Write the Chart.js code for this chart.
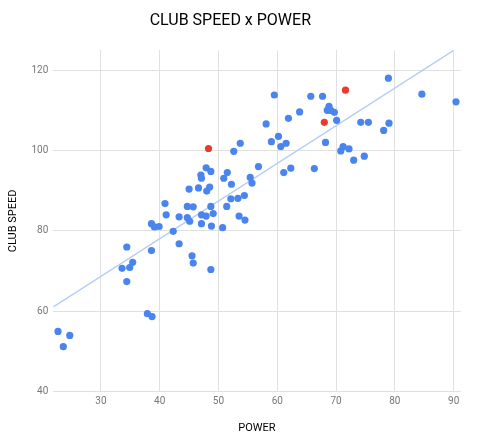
<!DOCTYPE html>
<html>
<head>
<meta charset="utf-8">
<script src="https://cdn.jsdelivr.net/npm/chart.js@4/dist/chart.umd.min.js"></script>
<style>
    html, body { margin: 0; padding: 0; background: #fff; }
    #wrap { width: 480px; height: 444px; }
</style>
</head>
<body>
<div id="wrap"><canvas id="chart" width="480" height="444"></canvas></div>
<script>
// Values
const bluePower = [
    22.7, 23.6, 24.7, 33.6, 34.4, 34.9, 35.4, 34.4, 37.9, 38.7,
    38.6, 38.6, 39.1, 39.9, 40.9, 41.1, 42.3, 43.3, 43.3, 45.0,
    44.7, 45.7, 44.7, 45.1, 45.5, 45.7, 46.6, 47.0, 47.1, 47.9,
    48.7, 48.0, 48.5, 47.1, 47.1, 47.9, 48.7, 49.1, 48.8, 48.7,
    50.7, 50.9, 51.5, 52.2, 52.1, 51.4, 52.6, 53.3, 53.7, 53.5,
    54.4, 54.5, 55.4, 55.7, 56.8, 58.1, 59.0, 59.5, 60.2, 60.6,
    61.5, 61.9, 61.1, 62.3, 63.8, 65.7, 66.3, 67.7,
    68.2, 68.5, 68.8, 69.1, 69.7, 70.1,
    70.8, 71.2, 72.2, 73.0, 74.2, 74.8, 75.5, 78.1, 78.9, 79.0, 84.6, 90.4
];
const blueSpeed = [
    55.0, 51.2, 54.0, 70.7, 76.0, 70.9, 72.2, 67.4, 59.4, 58.7,
    75.1, 81.8, 81.0, 81.1, 86.8, 84.0, 79.9, 83.5, 76.8, 90.4,
    86.1, 86.0, 83.3, 82.4, 73.8, 72.0, 90.7, 93.9, 93.1, 95.7,
    94.8, 89.9, 90.9, 84.0, 81.8, 83.7, 86.1, 84.3, 81.2, 70.4,
    80.8, 93.1, 94.5, 91.6, 88.0, 86.1, 99.8, 88.1, 101.8, 83.7,
    88.8, 82.7, 93.3, 91.9, 96.0, 106.6, 102.2, 113.8, 103.5, 101.0,
    101.8, 108.0, 94.5, 95.6, 109.6, 113.5, 95.5, 113.5,
    102.0, 110.0, 111.0, 110.0, 109.5, 107.5,
    99.9, 101.0, 100.4, 97.6, 107.0, 98.6, 107.0, 105.0, 118.0, 106.8, 114.0, 112.1
];
const redPower = [48.3, 68.0, 71.6];
const redSpeed = [100.5, 107.0, 115.0];

// trendline end points as seen in the picture
const trendPower = [21.9, 90.0];
const trendSpeed = [61.1, 124.9];

const xTicks = [30, 40, 50, 60, 70, 80, 90];
const yTicks = [40, 60, 80, 100, 120];

function toPoints(xs, ys) {
    return xs.map((x, i) => ({ x: x, y: ys[i] }));
}

const tickFont = { family: "Roboto", size: 10 };
const titleFont = { family: "Roboto", size: 11 };

new Chart(document.getElementById("chart").getContext("2d"), {
    type: "scatter",
    data: {
        datasets: [
            {
                label: "Highlighted",
                data: toPoints(redPower, redSpeed),
                backgroundColor: "#ea3a2d",
                borderWidth: 0,
                pointRadius: 3.6,
            },
            {
                label: "CLUB SPEED",
                data: toPoints(bluePower, blueSpeed),
                backgroundColor: "#4a84ee",
                borderWidth: 0,
                pointRadius: 3.6,
            },
            {
                label: "Trendline",
                type: "line",
                data: toPoints(trendPower, trendSpeed),
                borderColor: "#b4cdf7",
                borderWidth: 1.4,
                pointRadius: 0,
                fill: false,
            },
        ],
    },
    options: {
        responsive: false,
        animation: false,
        layout: { padding: { left: 0, right: 19.3, top: 0, bottom: 0 } },
        plugins: {
            legend: { display: false },
            tooltip: { enabled: false },
            title: {
                display: true,
                text: "CLUB SPEED x POWER",
                color: "#000",
                font: { family: "Roboto", size: 16, weight: "normal" },
                padding: { top: 11.4, bottom: 19.4 },
            },
        },
        scales: {
            x: {
                type: "linear",
                min: 21.9,
                max: 91.2,
                afterBuildTicks: (scale) => { scale.ticks = xTicks.map(v => ({ value: v })); },
                afterFit: (scale) => { scale.height = 52.3; },
                grid: { color: "#e0e0e0", lineWidth: 1, drawTicks: false },
                border: { display: false },
                ticks: { color: "#777", font: tickFont, padding: 4 },
                title: {
                    display: true,
                    text: "POWER",
                    color: "#000",
                    font: titleFont,
                    padding: { top: 0, bottom: 9.4 },
                },
            },
            y: {
                type: "linear",
                min: 40,
                max: 125,
                afterBuildTicks: (scale) => { scale.ticks = yTicks.map(v => ({ value: v })); },
                afterFit: (scale) => { scale.width = 53.3; },
                grid: { color: "#e0e0e0", lineWidth: 1, drawTicks: false },
                border: { display: false },
                ticks: { color: "#777", font: tickFont, padding: 5 },
                title: {
                    display: true,
                    text: "CLUB SPEED",
                    color: "#000",
                    font: titleFont,
                    padding: { top: 6.4, bottom: 0 },
                },
            },
        },
    },
});
</script>
</body>
</html>
